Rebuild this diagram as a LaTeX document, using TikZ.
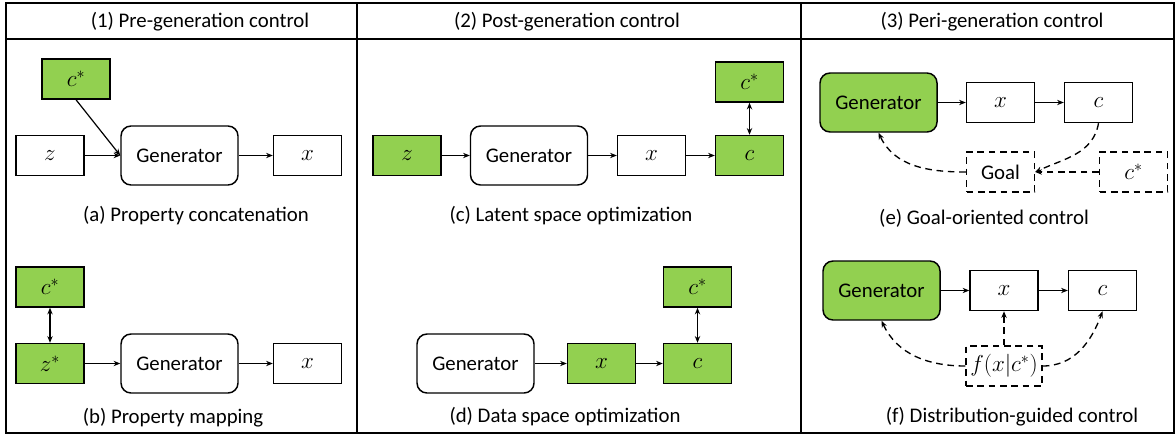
\documentclass[tikz,border=0pt]{standalone}
\usepackage{fontspec}
\setmainfont{Carlito}
\usepackage{amsmath}
\usetikzlibrary{arrows.meta}
\definecolor{boxgreen}{HTML}{92D050}

\begin{document}
\begin{tikzpicture}[x=0.75pt,y=-0.75pt,
  font=\fontsize{15.6}{18}\selectfont,
  box/.style={draw,line width=1.1pt,minimum width=51pt,minimum height=30pt,inner sep=0pt,font=\fontsize{17.5}{20}\selectfont},
  gbox/.style={box,fill=boxgreen},
  dbox/.style={box,dash pattern=on 5pt off 3.5pt},
  gen/.style={draw,line width=1.1pt,rounded corners=7.5pt,minimum width=87.75pt,minimum height=44.25pt,inner sep=0pt},
  arr/.style={line width=0.9pt,-{Stealth[length=5pt,width=4pt]}},
  darr/.style={arr,line width=1pt,dash pattern=on 5pt off 3.5pt},
  both/.style={line width=0.9pt,{Stealth[length=5pt,width=4pt]}-{Stealth[length=5pt,width=4pt]}}]

\useasboundingbox (0,0) rectangle (1176,435);

% frame and columns
\draw[line width=1.1pt] (6,3) rectangle (1174,433);
\draw[line width=1.1pt] (6,39) -- (1174,39);
\draw[line width=1.1pt] (357,3) -- (357,433);
\draw[line width=1.1pt] (801,3) -- (801,433);

\node (head1) at (200,22) {(1) Pre-generation control};
\node (head2) at (567,22) {(2) Post-generation control};
\node (head3) at (992,22) {(3) Peri-generation control};

% (a)
\node[gbox] (cstarA) at (76,79) {$c^*$};
\node[box] (zA) at (50,155.5) {$z$};
\node[gen] (genA) at (179.5,155.5) {Generator};
\node[box] (xA) at (307.5,155.5) {$x$};
\draw[arr] (cstarA.south) -- (genA.west);
\draw[arr] (zA) -- (genA);
\draw[arr] (genA) -- (xA);
\node (capA) at (196,216) {(a) Property concatenation};

% (b)
\node[gbox] (cstarB) at (50,287) {$c^*$};
\node[gbox] (zB) at (50,363.5) {$z^*$};
\node[gen] (genB) at (179.5,363.5) {Generator};
\node[box] (xB) at (307.5,363.5) {$x$};
\draw[both] (cstarB) -- (zB);
\draw[arr] (zB) -- (genB);
\draw[arr] (genB) -- (xB);
\node (capB) at (173,418) {(b) Property mapping};

% (c)
\node[gbox] (zC) at (407,155.5) {$z$};
\node[gen] (genC) at (529,155.5) {Generator};
\node[box] (xC) at (651.5,155.5) {$x$};
\node[gbox] (cC) at (749.5,155.5) {$c$};
\node[gbox] (cstarC) at (749.5,82) {$c^*$};
\draw[arr] (zC) -- (genC);
\draw[arr] (genC) -- (xC);
\draw[arr] (xC) -- (cC);
\draw[both] (cstarC) -- (cC);
\node (capC) at (571,216) {(c) Latent space optimization};

% (d)
\node[gen] (genD) at (475.5,363.5) {Generator};
\node[gbox] (xD) at (601.5,363.5) {$x$};
\node[gbox] (cD) at (697.5,363.5) {$c$};
\node[gbox] (cstarD) at (697.5,287) {$c^*$};
\draw[arr] (genD) -- (xD);
\draw[arr] (xD) -- (cD);
\draw[both] (cstarD) -- (cD);
\node (capD) at (565,417) {(d) Data space optimization};

% (e)
\node[gen,fill=boxgreen] (genE) at (878.5,102.5) {Generator};
\node[box] (xE) at (1000.5,102.5) {$x$};
\node[box] (cE) at (1098.5,102.5) {$c$};
\node[dbox,font=\fontsize{15.6}{18}\selectfont] (goalE) at (1000.5,172) {Goal};
\node[dbox] (cstarE) at (1133.5,172) {$c^*$};
\draw[arr] (genE) -- (xE);
\draw[arr] (xE) -- (cE);
\draw[darr] (cE.south) to[out=-100,in=25] (goalE.east);
\draw[darr] (cstarE) -- (goalE);
\draw[darr] (goalE.west) to[out=180,in=-65] (genE.south);
\node (capE) at (984,218) {(e) Goal-oriented control};

% (f)
\node[gen,fill=boxgreen] (genF) at (881.5,290.5) {Generator};
\node[box] (xF) at (1004,290.5) {$x$};
\node[box] (cF) at (1102.5,290.5) {$c$};
\node[dbox,minimum width=57pt] (fF) at (1004,366) {$f(x|c^*)$};
\draw[arr] (genF) -- (xF);
\draw[arr] (xF) -- (cF);
\draw[darr] (fF) -- (xF);
\draw[darr] (fF.west) to[out=180,in=-65] (genF.south);
\draw[darr] (fF.east) to[out=0,in=-110] (cF.south);
\node (capF) at (1012,417) {(f) Distribution-guided control};
\end{tikzpicture}
\end{document}
